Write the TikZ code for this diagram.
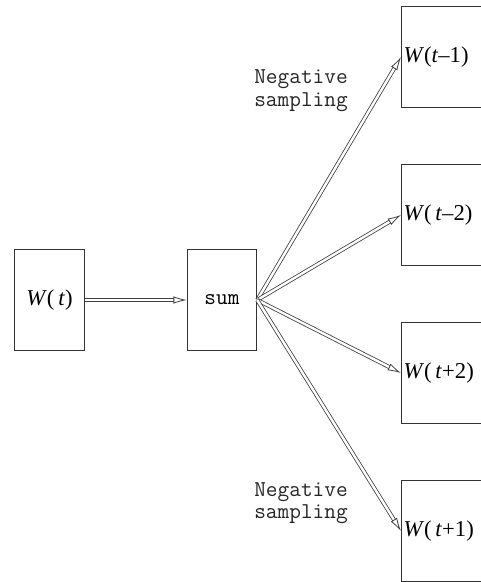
\documentclass[tikz,border=0pt]{standalone}
\usepackage{fontspec}
\setmainfont{Liberation Serif}
\usetikzlibrary{arrows.meta}

\begin{document}
\begin{tikzpicture}[x=0.75pt, y=-0.75pt, font=\fontsize{17}{19}\selectfont,
    box/.style={draw=black!80, line width=0.8pt, minimum width=52pt, minimum height=75.5pt, inner sep=0pt},
    outbox/.style={box, text width=72pt, align=left, inner xsep=1.5pt},
    link/.style={draw=black!75, line width=0.6pt, double=white, double distance=1.8pt,
      -{Latex[open, length=10pt, width=5.5pt]}},
    lbl/.style={font=\ttfamily\fontsize{17}{17}\selectfont, align=center, text=black!85}]
  \useasboundingbox (0,0) rectangle (481,582);
  % input word and its sum
  \node[box] (wt) at (49.5,300) {\textit{W}(\,\textit{t})};
  \node[box, font=\ttfamily\fontsize{17}{17}\selectfont] (sum) at (222,300) {sum};
  % context words
  \node[outbox] (wm1) at (451.5,57) {\textit{W}(\textit{t}–1)};
  \node[outbox] (wm2) at (451.5,215) {\textit{W}(\,\textit{t}–2)};
  \node[outbox] (wp2) at (451.5,373) {\textit{W}(\,\textit{t}+2)};
  \node[outbox] (wp1) at (451.5,531) {\textit{W}(\,\textit{t}+1)};
  \node[lbl] (neg1) at (301,91) {Negative\\sampling};
  \node[lbl] (neg2) at (301,503) {Negative\\sampling};
  \draw[link] (wt) -- (sum);
  \foreach \w in {wm1, wm2, wp2, wp1}
    \draw[link] (sum.east) -- (\w.west);
\end{tikzpicture}
\end{document}
